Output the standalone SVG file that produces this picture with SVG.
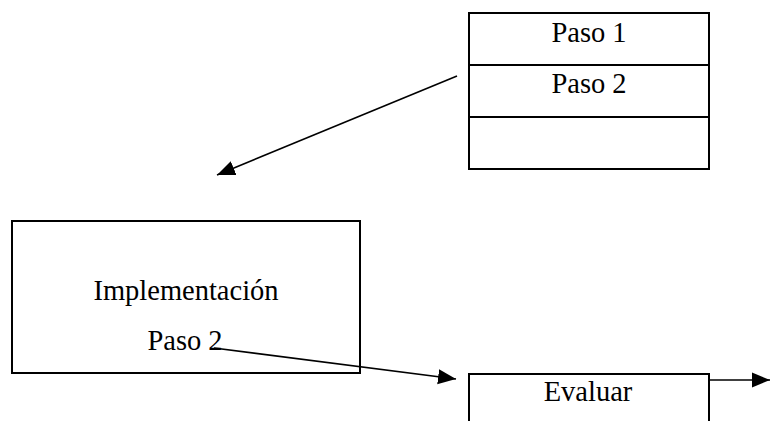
<svg xmlns="http://www.w3.org/2000/svg" width="770" height="421" viewBox="0 0 770 421">
<style>
.box{fill:#fff;stroke:#000;stroke-width:2}
.t{font-family:"Liberation Serif","Times New Roman",serif;font-size:28.5px;fill:#000;text-anchor:middle}
.c{stroke:#000;stroke-width:1.6;fill:none}
</style>
<defs>
<marker id="ah" markerUnits="userSpaceOnUse" markerWidth="19" markerHeight="16" refX="18" refY="7.5" orient="auto" viewBox="0 0 19 15">
<path d="M0,0 L18,7.5 L0,15 Z" fill="#000"/>
</marker>
</defs>
<rect width="770" height="421" fill="#fff"/>
<g id="pasos">
<rect class="box" x="469" y="13" width="240" height="156"/>
<line x1="469" y1="65" x2="709" y2="65" stroke="#000" stroke-width="2"/>
<line x1="469" y1="117" x2="709" y2="117" stroke="#000" stroke-width="2"/>
<text class="t" x="589" y="42">Paso 1</text>
<text class="t" x="589" y="93">Paso 2</text>
</g>
<g id="implementacion">
<rect class="box" x="12" y="221" width="348" height="152"/>
<text class="t" x="186" y="300">Implementación</text>
<text class="t" x="185" y="350">Paso 2</text>
</g>
<g id="evaluar">
<rect class="box" x="469" y="374" width="240" height="60"/>
<text class="t" x="588" y="401">Evaluar</text>
</g>
<g id="connectors">
<line class="c" x1="457" y1="76" x2="217" y2="175" marker-end="url(#ah)"/>
<line class="c" x1="214" y1="348" x2="456" y2="379" marker-end="url(#ah)"/>
<line class="c" x1="709" y1="380" x2="770" y2="380" marker-end="url(#ah)"/>
</g>
</svg>
